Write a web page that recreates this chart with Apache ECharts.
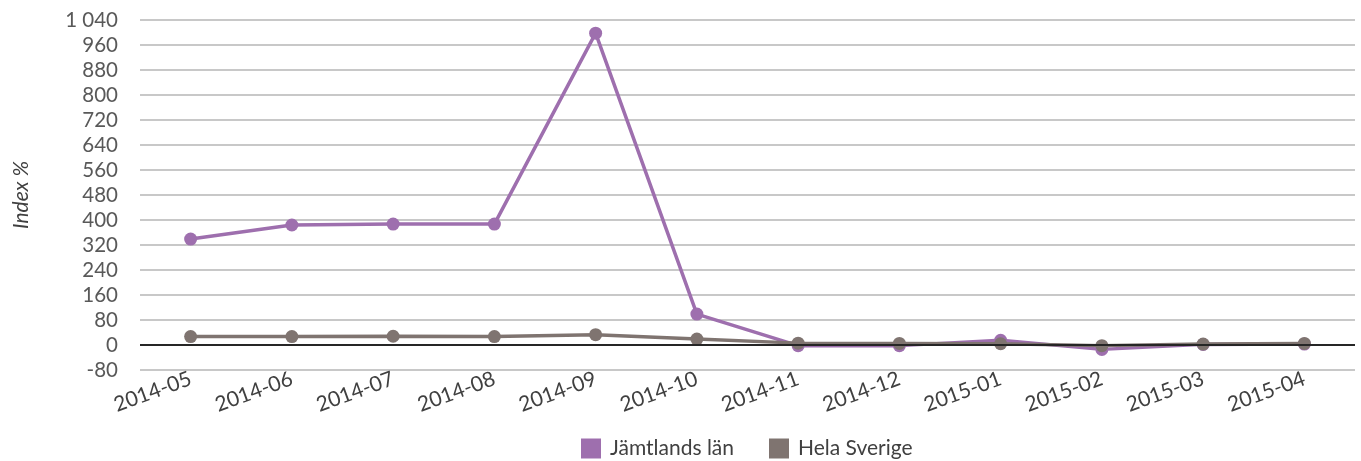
<!DOCTYPE html>
<html><head><meta charset="utf-8">
<script src="https://cdn.jsdelivr.net/npm/echarts@6/dist/echarts.min.js"></script>
<style>html,body{margin:0;padding:0;background:#fff}#c{width:1361px;height:461px}</style>
</head><body><div id="c"></div>
<script>
const categories = ["2014-05","2014-06","2014-07","2014-08","2014-09","2014-10","2014-11","2014-12","2015-01","2015-02","2015-03","2015-04"];
const jamtland = [339, 384, 387, 387, 998, 99, -2, -2, 15, -14, 2, 3];
const sverige = [27, 27, 28, 27, 33, 19, 6, 5, 4, -2, 3, 5];
const seriesNames = ["Jämtlands län", "Hela Sverige"];
const yTicks = {min: -80, max: 1040, interval: 80};

const chart = echarts.init(document.getElementById('c'));
const font = 'Lato';
chart.setOption({
  animation: false,
  textStyle: {fontFamily: font},
  grid: {left: 140, right: 6, top: 20, bottom: 91},
  legend: {
    data: seriesNames, left: 576, top: 433, itemWidth: 20, itemHeight: 20, itemGap: 35,
    icon: 'rect', textStyle: {fontFamily: font, fontSize: 21, color: '#404040', padding: [0, 0, 0, 4]}
  },
  xAxis: {
    type: 'category', data: categories, boundaryGap: true,
    axisLine: {show: false}, axisTick: {show: false},
    axisLabel: {rotate: 20, fontFamily: font, fontSize: 21, color: '#404040', margin: 8, interval: 0}
  },
  yAxis: {
    type: 'value', min: yTicks.min, max: yTicks.max, interval: yTicks.interval,
    name: 'Index %', nameLocation: 'middle', nameGap: 108,
    nameTextStyle: {fontFamily: font, fontStyle: 'italic', fontSize: 21, color: '#404040'},
    axisLine: {show: false}, axisTick: {show: false},
    axisLabel: {fontFamily: font, fontSize: 20.5, color: '#595959', margin: 22,
      formatter: v => String(v).replace(/\B(?=(\d{3})+(?!\d))/g, ' ')},
    splitLine: {lineStyle: {color: '#C8C8C8', width: 2}}
  },
  series: [
    {name: seriesNames[0], type: 'line', data: jamtland, symbol: 'circle', symbolSize: 13,
     itemStyle: {color: '#9E6FAE'}, lineStyle: {width: 3.5, color: '#9E6FAE'},
     markLine: {silent: true, symbol: 'none', label: {show: false},
       lineStyle: {color: '#262626', width: 2, type: 'solid'}, data: [{yAxis: 0}]}, z: 3},
    {name: seriesNames[1], type: 'line', data: sverige, symbol: 'circle', symbolSize: 13,
     itemStyle: {color: '#7F7470'}, lineStyle: {width: 3.5, color: '#7F7470'}, z: 4}
  ]
});
</script></body></html>
